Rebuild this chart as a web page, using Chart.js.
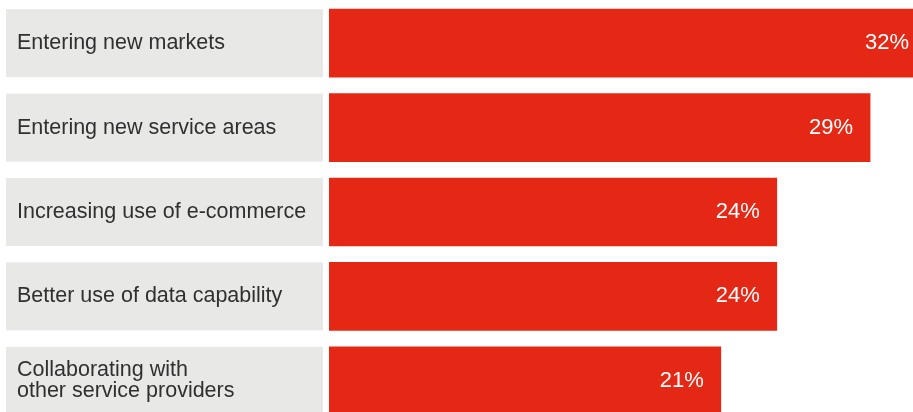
<!DOCTYPE html>
<html lang="en">
<head>
  <meta charset="UTF-8" />
  <title>Growth priorities</title>
  <script src="https://cdn.jsdelivr.net/npm/chart.js"></script>
  <style>
    html, body {
      margin: 0;
      padding: 0;
      background: #fff;
      overflow: hidden;
    }
    #wrap {
      width: 913px;
      height: 412px;
      overflow: hidden;
    }
  </style>
</head>
<body>
  <div id="wrap">
    <canvas id="priorities" width="913" height="423"></canvas>
  </div>

  <script>
    const categories = [
      "Entering new markets",
      "Entering new service areas",
      "Increasing use of e-commerce",
      "Better use of data capability",
      ["Collaborating with", "other service providers"]
    ];
    const shares = [32, 29, 24, 24, 21];
    const shareLabels = ["32%", "29%", "24%", "24%", "21%"];

    const RED = "#e52815";
    const GREY = "#e8e8e7";
    const FONT = "'Liberation Sans', Arial, sans-serif";

    // grey label panels behind each category name (drawn before the axis text)
    const labelPanels = {
      id: "labelPanels",
      beforeDraw(chart) {
        const { ctx } = chart;
        const y = chart.scales.y;
        ctx.save();
        ctx.fillStyle = GREY;
        categories.forEach((c, i) => {
          const cy = y.getPixelForValue(i);
          ctx.fillRect(6, cy - 34, 317, 68);
        });
        ctx.restore();
      }
    };

    // white value text at the end of each bar
    const valueText = {
      id: "valueText",
      afterDatasetsDraw(chart) {
        const { ctx } = chart;
        const x = chart.scales.x;
        const meta = chart.getDatasetMeta(0);
        ctx.save();
        ctx.fillStyle = "#ffffff";
        ctx.font = "22px " + FONT;
        ctx.textAlign = "right";
        ctx.textBaseline = "middle";
        meta.data.forEach((bar, i) => {
          ctx.fillText(shareLabels[i], x.getPixelForValue(shares[i]) - 17, bar.y);
        });
        ctx.restore();
      }
    };

    new Chart(document.getElementById("priorities"), {
      type: "bar",
      data: {
        labels: categories,
        datasets: [{
          data: shares,
          backgroundColor: RED,
          barThickness: 68
        }]
      },
      options: {
        indexAxis: "y",
        responsive: false,
        animation: false,
        layout: { padding: { top: 1, left: 17, right: 0, bottom: 0 } },
        plugins: {
          legend: { display: false },
          tooltip: { enabled: false }
        },
        scales: {
          x: {
            display: false,
            min: 0,
            max: 31.3
          },
          y: {
            grid: { display: false },
            border: { display: false },
            afterFit(scale) {
              scale.width = 312;
              scale.paddingTop = 0;
              scale.paddingBottom = 0;
            },
            ticks: {
              crossAlign: "far",
              color: "#303030",
              font: { family: FONT, size: 21.5, lineHeight: 1.0 }
            }
          }
        }
      },
      plugins: [labelPanels, valueText]
    });
  </script>
</body>
</html>
